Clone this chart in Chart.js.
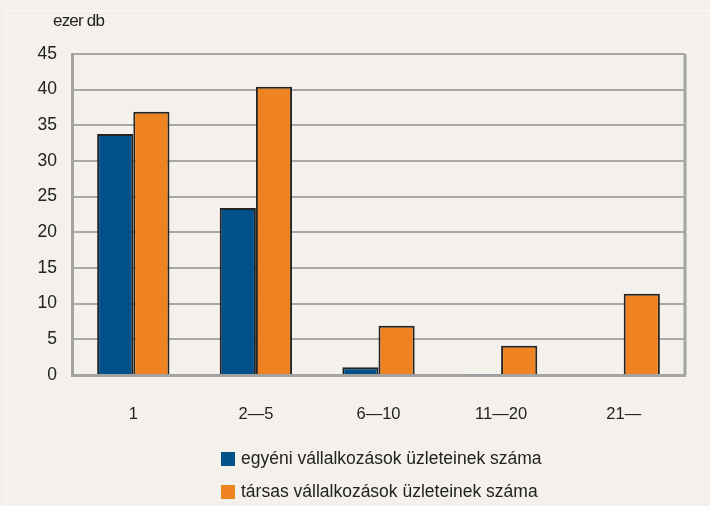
<!DOCTYPE html>
<html>
<head>
<meta charset="utf-8">
<script src="https://cdn.jsdelivr.net/npm/chart.js@4/dist/chart.umd.min.js"></script>
<style>
  html, body { margin: 0; padding: 0; background: #f4f1ed; }
  #wrap { position: relative; width: 710px; height: 506px; overflow: hidden; }
  #frame { position: absolute; left: 6px; top: 10px; width: 720px; height: 520px; border-left: 1px solid #fbfaf8; border-top: 1px solid #fbfaf8; }
  #unit { position: absolute; left: 53px; top: 11px; font: 17px "Liberation Sans", Arial, sans-serif; color: #222; letter-spacing: -0.8px; }
  #legend { position: absolute; left: 221px; top: 442px; font: 17.5px "Liberation Sans", Arial, sans-serif; color: #222; }
  .item { height: 33px; display: flex; align-items: center; }
  .box { width: 14px; height: 14px; margin-right: 6px; }
</style>
</head>
<body>
<div id="wrap">
  <div id="frame"></div>
  <canvas id="myChart" width="710" height="506"></canvas>
  <div id="unit">ezer db</div>
  <div id="legend"></div>
</div>
<script>
const ctx = document.getElementById("myChart");

// kategóriák (üzletek száma vállalkozásonként)
const categories = ["1", "2\u20145", "6\u201410", "11\u201420", "21\u2014"];
const egyeni = [33.8, 23.4, 1.1, 0.1, 0];
const tarsas = [36.9, 40.4, 6.9, 4.1, 11.4];
const seriesNames = ["egyéni vállalkozások üzleteinek száma", "társas vállalkozások üzleteinek száma"];
const yTicks = [0, 5, 10, 15, 20, 25, 30, 35, 40, 45];

const colors = ["#00508a", "#f08321"];

// keret a rajzterület jobb oldalán
const frame = {
  id: "frame",
  beforeDatasetsDraw(chart) {
    const a = chart.chartArea;
    const c = chart.ctx;
    c.save();
    c.strokeStyle = "#a3a3a3";
    c.lineWidth = 3;
    c.beginPath();
    c.moveTo(a.right, a.top);
    c.lineTo(a.right, a.bottom);
    c.stroke();
    c.restore();
  }
};

var myChart = new Chart(ctx, {
  type: "bar",
  data: {
    labels: categories,
    datasets: [
      {
        label: seriesNames[0],
        data: egyeni,
        backgroundColor: colors[0],
        borderColor: "#242424",
        borderWidth: 2,
        borderSkipped: "bottom",
        categoryPercentage: 0.59,
        barPercentage: 1,
      },
      {
        label: seriesNames[1],
        data: tarsas,
        backgroundColor: colors[1],
        borderColor: "#242424",
        borderWidth: 2,
        borderSkipped: "bottom",
        categoryPercentage: 0.59,
        barPercentage: 1,
      },
    ],
  },
  options: {
    responsive: false,
    animation: false,
    layout: { padding: { left: 0, right: 25, top: 54, bottom: 0 } },
    plugins: { legend: { display: false }, tooltip: { enabled: false } },
    scales: {
      x: {
        grid: { display: false },
        border: { color: "#a3a3a3", width: 3 },
        ticks: { color: "#222", font: { family: "Liberation Sans", size: 16.5 }, padding: 22 },
        afterFit(s) { s.height = 131; },
      },
      y: {
        min: 0,
        max: 45,
        afterBuildTicks(s) { s.ticks = yTicks.map(v => ({ value: v })); },
        grid: { color: "#a8a8a8", lineWidth: 2, drawTicks: false },
        border: { color: "#a3a3a3", width: 3 },
        ticks: { color: "#222", font: { family: "Liberation Sans", size: 17.5 }, padding: 15 },
        afterFit(s) { s.width = 72; },
      },
    },
  },
  plugins: [frame],
});

// jelmagyarázat
const legend = document.getElementById("legend");
seriesNames.forEach((name, i) => {
  const row = document.createElement("div");
  row.className = "item";
  row.innerHTML = '<span class="box" style="background:' + colors[i] + '"></span>' + name;
  legend.appendChild(row);
});
</script>
</body>
</html>
